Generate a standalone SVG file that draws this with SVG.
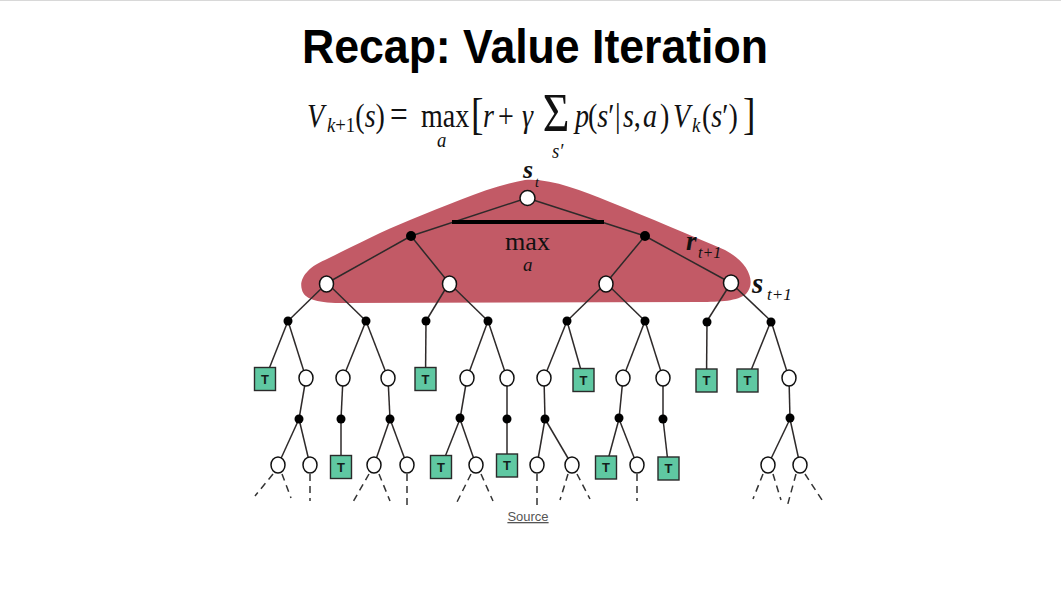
<svg xmlns="http://www.w3.org/2000/svg" width="1061" height="594" viewBox="0 0 1061 594">
<style>
.title{font-family:"Liberation Sans",Arial,sans-serif;font-weight:bold;font-size:48px;fill:#000}
.m{font-family:"Liberation Serif","DejaVu Serif",serif;font-size:33px;fill:#111}
.i{font-style:italic}
.sb{font-size:22px}
.lbl{font-family:"Liberation Serif","DejaVu Serif",serif;font-weight:bold;font-style:italic;fill:#111}
.sub{font-weight:normal;font-style:italic}
.e{stroke:#2e2a2a;stroke-width:1.5;fill:none}
.d{stroke:#333;stroke-width:1.5;stroke-dasharray:7 5;fill:none}
.st{fill:#fff;stroke:#111;stroke-width:1.5}
.ac{fill:#000}
.tb{fill:#5fc8a2;stroke:#2a2a2a;stroke-width:1.4}
.tt{font-family:"Liberation Sans",Arial,sans-serif;font-weight:bold;font-size:13px;fill:#13201b;text-anchor:middle}
.src{font-family:"Liberation Sans",Arial,sans-serif;font-size:13px;fill:#555;text-anchor:middle;text-decoration:underline}
</style>
<rect width="1061" height="594" fill="#fff"/>
<line x1="0" y1="0.5" x2="1061" y2="0.5" stroke="#d8d8d8" stroke-width="1"/>

<text class="title" x="302" y="63" textLength="466" lengthAdjust="spacingAndGlyphs">Recap: Value Iteration</text>

<text id="formula" class="m" transform="scale(0.85,1)"><tspan class="i" x="361.2" y="127">V</tspan><tspan class="sb" x="384.7" y="132"><tspan class="i">k</tspan>+1</tspan><tspan x="418" y="127">(<tspan class="i">s</tspan>)</tspan><tspan x="458.8" y="127" style="font-size:37px">=</tspan><tspan x="495.3" y="127">max</tspan><tspan class="i sb" x="514.1" y="147">a</tspan><tspan x="554.1" y="129" style="font-size:44px">[</tspan><tspan class="i" x="568.2" y="127">r</tspan><tspan x="585.9" y="127">+</tspan><tspan class="i" x="614.1" y="127">γ</tspan><tspan x="638.5" y="131" style="font-size:54px">Σ</tspan><tspan class="i sb" x="649.4" y="158">s′</tspan><tspan class="i" x="676.5" y="127">p</tspan><tspan x="691.8" y="127">(<tspan class="i">s</tspan>′</tspan><tspan x="723.5" y="127">|</tspan><tspan class="i" x="733" y="127">s</tspan><tspan x="745.5" y="127">,</tspan><tspan class="i" x="756.5" y="127">a</tspan><tspan x="776.5" y="127">)</tspan><tspan class="i" x="791.8" y="127">V</tspan><tspan class="i sb" x="814.1" y="132">k</tspan><tspan x="825.9" y="127">(<tspan class="i">s</tspan>′)</tspan><tspan x="874.1" y="129" style="font-size:44px">]</tspan></text>

<path id="highlight" d="M302,290 C298,278 310,266 325,260 C350,248 380,232 410,220 C450,204 490,186 525,180 C550,178 580,190 610,202 C650,218 690,235 725,250 C748,262 757,282 746,294 C738,301 720,302 700,302 L340,303 C315,303 304,298 302,290 Z" fill="#c25a66"/>

<g id="connectors">
<line class="e" x1="527" y1="198" x2="411" y2="236"/>
<line class="e" x1="527" y1="198" x2="645" y2="236"/>
<line class="e" x1="411" y1="236" x2="327" y2="283"/>
<line class="e" x1="411" y1="236" x2="449" y2="283"/>
<line class="e" x1="645" y1="236" x2="606" y2="283"/>
<line class="e" x1="645" y1="236" x2="731" y2="283"/>
<line class="e" x1="327" y1="283" x2="288" y2="321"/>
<line class="e" x1="327" y1="283" x2="366" y2="321"/>
<line class="e" x1="449" y1="283" x2="426" y2="321"/>
<line class="e" x1="449" y1="283" x2="488" y2="321"/>
<line class="e" x1="606" y1="283" x2="567" y2="321"/>
<line class="e" x1="606" y1="283" x2="645" y2="321"/>
<line class="e" x1="731" y1="283" x2="707" y2="321"/>
<line class="e" x1="731" y1="283" x2="771" y2="321"/>
<line class="e" x1="288" y1="321" x2="265" y2="379"/>
<line class="e" x1="288" y1="321" x2="306" y2="378"/>
<line class="e" x1="366" y1="321" x2="343" y2="378"/>
<line class="e" x1="366" y1="321" x2="388" y2="378"/>
<line class="e" x1="426" y1="321" x2="425.5" y2="379"/>
<line class="e" x1="488" y1="321" x2="467" y2="378"/>
<line class="e" x1="488" y1="321" x2="507" y2="378"/>
<line class="e" x1="567" y1="321" x2="544" y2="378"/>
<line class="e" x1="567" y1="321" x2="583.5" y2="379"/>
<line class="e" x1="645" y1="321" x2="623" y2="378"/>
<line class="e" x1="645" y1="321" x2="663" y2="378"/>
<line class="e" x1="707" y1="321" x2="706.5" y2="379"/>
<line class="e" x1="771" y1="321" x2="747.5" y2="379"/>
<line class="e" x1="771" y1="321" x2="789" y2="378"/>
<line class="e" x1="306" y1="378" x2="299" y2="419"/>
<line class="e" x1="343" y1="378" x2="341" y2="419"/>
<line class="e" x1="388" y1="378" x2="390" y2="419"/>
<line class="e" x1="467" y1="378" x2="460" y2="419"/>
<line class="e" x1="507" y1="378" x2="507" y2="419"/>
<line class="e" x1="544" y1="378" x2="545" y2="419"/>
<line class="e" x1="623" y1="378" x2="619" y2="419"/>
<line class="e" x1="663" y1="378" x2="663" y2="419"/>
<line class="e" x1="789" y1="378" x2="790" y2="419"/>
<line class="e" x1="299" y1="419" x2="278" y2="465"/>
<line class="e" x1="299" y1="419" x2="310" y2="465"/>
<line class="e" x1="341" y1="419" x2="341" y2="467"/>
<line class="e" x1="390" y1="419" x2="374" y2="465"/>
<line class="e" x1="390" y1="419" x2="407" y2="465"/>
<line class="e" x1="460" y1="419" x2="441" y2="467"/>
<line class="e" x1="460" y1="419" x2="476" y2="465"/>
<line class="e" x1="507" y1="419" x2="507" y2="467"/>
<line class="e" x1="545" y1="419" x2="537" y2="465"/>
<line class="e" x1="545" y1="419" x2="572" y2="465"/>
<line class="e" x1="619" y1="419" x2="606" y2="467"/>
<line class="e" x1="619" y1="419" x2="637" y2="465"/>
<line class="e" x1="663" y1="419" x2="668.5" y2="467"/>
<line class="e" x1="790" y1="419" x2="768" y2="465"/>
<line class="e" x1="790" y1="419" x2="800" y2="465"/>
<line class="d" x1="273" y1="474" x2="255" y2="496"/>
<line class="d" x1="282" y1="474" x2="291" y2="498"/>
<line class="d" x1="310" y1="474" x2="310" y2="501"/>
<line class="d" x1="369" y1="474" x2="353" y2="502"/>
<line class="d" x1="379" y1="474" x2="390" y2="501"/>
<line class="d" x1="407" y1="474" x2="407" y2="505"/>
<line class="d" x1="471" y1="474" x2="457" y2="502"/>
<line class="d" x1="481" y1="474" x2="493" y2="501"/>
<line class="d" x1="537" y1="474" x2="537" y2="507"/>
<line class="d" x1="568" y1="474" x2="560" y2="500"/>
<line class="d" x1="577" y1="474" x2="590" y2="499"/>
<line class="d" x1="637" y1="474" x2="637" y2="501"/>
<line class="d" x1="763" y1="474" x2="753" y2="499"/>
<line class="d" x1="773" y1="474" x2="781" y2="500"/>
<line class="d" x1="796" y1="474" x2="787" y2="507"/>
<line class="d" x1="805" y1="474" x2="822" y2="500"/>
</g>

<g id="bar"><rect x="452" y="220" width="152" height="4" fill="#000"/></g>

<g id="labels">
<text class="lbl" x="523" y="178" font-size="26">s<tspan class="sub" x="535" y="187" font-size="14">t</tspan></text>
<text class="m" x="505" y="250" style="font-size:26px" textLength="45" lengthAdjust="spacingAndGlyphs">max</text>
<text class="m i" x="523" y="271" style="font-size:19px">a</text>
<text class="lbl" x="686" y="250" font-size="27">r<tspan class="sub" x="698" y="258" font-size="16">t+1</tspan></text>
<text class="lbl" x="752" y="293" font-size="29">s<tspan class="sub" x="767" y="300" font-size="17">t+1</tspan></text>
</g>

<g id="n0"><ellipse class="st" cx="527.5" cy="198" rx="7.5" ry="7.5"/></g>
<g id="a1"><circle class="ac" cx="411" cy="236" r="5"/></g>
<g id="a2"><circle class="ac" cx="645" cy="236" r="5"/></g>
<g id="s1"><ellipse class="st" cx="326.5" cy="284" rx="7" ry="8"/></g>
<g id="s2"><ellipse class="st" cx="449.5" cy="284" rx="7" ry="8"/></g>
<g id="s3"><ellipse class="st" cx="606" cy="284" rx="7" ry="8"/></g>
<g id="s4"><ellipse class="st" cx="731" cy="283" rx="7.5" ry="8"/></g>

<g id="d1"><circle class="ac" cx="288" cy="321" r="4.5"/></g>
<g id="d2"><circle class="ac" cx="366" cy="321" r="4.5"/></g>
<g id="d3"><circle class="ac" cx="426" cy="321" r="4.5"/></g>
<g id="d4"><circle class="ac" cx="488" cy="321" r="4.5"/></g>
<g id="d5"><circle class="ac" cx="567" cy="321" r="4.5"/></g>
<g id="d6"><circle class="ac" cx="645" cy="321" r="4.5"/></g>
<g id="d7"><circle class="ac" cx="707" cy="322" r="4.5"/></g>
<g id="d8"><circle class="ac" cx="771" cy="322" r="4.5"/></g>

<g id="t1"><rect class="tb" x="254.5" y="367.5" width="21" height="23"/><text class="tt" x="265" y="383.5">T</text></g>
<g id="c1"><ellipse class="st" cx="306" cy="378" rx="7" ry="8"/></g>
<g id="c2"><ellipse class="st" cx="343" cy="378" rx="7" ry="8"/></g>
<g id="c3"><ellipse class="st" cx="388" cy="378" rx="7" ry="8"/></g>
<g id="t2"><rect class="tb" x="415" y="367.5" width="21" height="23"/><text class="tt" x="425.5" y="383.5">T</text></g>
<g id="c4"><ellipse class="st" cx="467" cy="378" rx="7" ry="8"/></g>
<g id="c5"><ellipse class="st" cx="507" cy="378" rx="7" ry="8"/></g>
<g id="c6"><ellipse class="st" cx="544" cy="378" rx="7" ry="8"/></g>
<g id="t3"><rect class="tb" x="573" y="368.5" width="21" height="23"/><text class="tt" x="583.5" y="384.5">T</text></g>
<g id="c7"><ellipse class="st" cx="623" cy="378" rx="7" ry="8"/></g>
<g id="c8"><ellipse class="st" cx="663" cy="378" rx="7" ry="8"/></g>
<g id="t4"><rect class="tb" x="696" y="369" width="21" height="23"/><text class="tt" x="706.5" y="385">T</text></g>
<g id="t5"><rect class="tb" x="737" y="369" width="21" height="23"/><text class="tt" x="747.5" y="385">T</text></g>
<g id="c9"><ellipse class="st" cx="789" cy="378" rx="7" ry="8"/></g>

<g id="e1"><circle class="ac" cx="299" cy="419" r="4.5"/></g>
<g id="e2"><circle class="ac" cx="341" cy="419" r="4.5"/></g>
<g id="e3"><circle class="ac" cx="390" cy="419" r="4.5"/></g>
<g id="e4"><circle class="ac" cx="460" cy="418" r="4.5"/></g>
<g id="e5"><circle class="ac" cx="507" cy="419" r="4.5"/></g>
<g id="e6"><circle class="ac" cx="545" cy="419" r="4.5"/></g>
<g id="e7"><circle class="ac" cx="619" cy="418" r="4.5"/></g>
<g id="e8"><circle class="ac" cx="663" cy="419" r="4.5"/></g>
<g id="e9"><circle class="ac" cx="790" cy="418" r="4.5"/></g>

<g id="f1"><ellipse class="st" cx="278" cy="465" rx="7" ry="8"/></g>
<g id="f2"><ellipse class="st" cx="310" cy="465" rx="7" ry="8"/></g>
<g id="u1"><rect class="tb" x="330.5" y="455.5" width="21" height="23"/><text class="tt" x="341" y="471.5">T</text></g>
<g id="f3"><ellipse class="st" cx="374" cy="465" rx="7" ry="8"/></g>
<g id="f4"><ellipse class="st" cx="407" cy="465" rx="7" ry="8"/></g>
<g id="u2"><rect class="tb" x="430.5" y="455.5" width="21" height="23"/><text class="tt" x="441" y="471.5">T</text></g>
<g id="f5"><ellipse class="st" cx="476" cy="465" rx="7" ry="8"/></g>
<g id="u3"><rect class="tb" x="496.5" y="454" width="21" height="23"/><text class="tt" x="507" y="470">T</text></g>
<g id="f6"><ellipse class="st" cx="537" cy="465" rx="7" ry="8"/></g>
<g id="f7"><ellipse class="st" cx="572" cy="465" rx="7" ry="8"/></g>
<g id="u4"><rect class="tb" x="595.5" y="456" width="21" height="23"/><text class="tt" x="606" y="472">T</text></g>
<g id="f8"><ellipse class="st" cx="637" cy="465" rx="7" ry="8"/></g>
<g id="u5"><rect class="tb" x="658" y="457" width="21" height="23"/><text class="tt" x="668.5" y="473">T</text></g>
<g id="f9"><ellipse class="st" cx="768" cy="465" rx="7" ry="8"/></g>
<g id="f10"><ellipse class="st" cx="800" cy="465" rx="7" ry="8"/></g>

<text class="src" x="528" y="521">Source</text>
</svg>
